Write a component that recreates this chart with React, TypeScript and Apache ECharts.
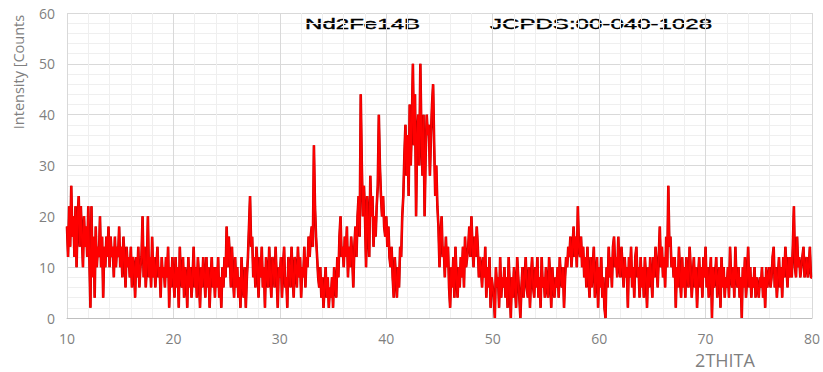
import React, { useEffect, useRef } from "react";
import * as echarts from "echarts";

// 2-theta sampling: starts at 10°, step 0.1°
const TWO_THETA_START = 10;
const TWO_THETA_STEP = 0.1;

// Intensity counts, one row per degree (10 samples each)
const counts10s = [
  18, 12, 22, 14, 26, 16, 20, 12, 22, 10,
  20, 24, 14, 22, 16, 10, 20, 14, 18, 12,
  22, 12, 2, 22, 8, 16, 4, 18, 10, 14,
  12, 20, 10, 16, 4, 14, 10, 16, 12, 18,
  10, 16, 12, 14, 8, 16, 10, 14, 12, 18,
  10, 14, 8, 16, 12, 6, 14, 10, 12, 8,
  14, 6, 12, 10, 4, 12, 8, 14, 6, 10,
  12, 20, 8, 14, 6, 10, 20, 8, 12, 6,
  16, 8, 12, 6, 10, 14, 8, 10, 4, 12,
  8, 10, 6, 12, 8, 14, 2, 10, 6, 12,
];
const counts20s = [
  8, 4, 12, 6, 10, 2, 14, 8, 6, 12,
  4, 10, 8, 2, 12, 6, 10, 4, 8, 14,
  6, 10, 4, 12, 8, 2, 10, 6, 12, 8,
  4, 12, 6, 10, 2, 8, 12, 6, 10, 4,
  10, 6, 12, 4, 8, 2, 10, 6, 12, 8,
  18, 10, 16, 12, 6, 14, 8, 4, 12, 6,
  10, 4, 8, 2, 12, 6, 4, 10, 2, 8,
  12, 18, 24, 14, 16, 8, 12, 6, 14, 10,
  4, 12, 8, 14, 6, 10, 2, 12, 8, 6,
  14, 8, 4, 12, 10, 6, 14, 8, 2, 10,
];
const counts30s = [
  8, 12, 4, 10, 14, 6, 8, 2, 12, 10,
  6, 14, 8, 4, 12, 10, 6, 14, 8, 12,
  4, 10, 8, 14, 6, 12, 10, 16, 12, 16,
  18, 14, 34, 22, 16, 12, 8, 6, 10, 4,
  8, 2, 6, 10, 4, 8, 2, 6, 4, 8,
  2, 10, 6, 4, 12, 8, 16, 20, 12, 14,
  10, 16, 12, 18, 8, 14, 10, 16, 12, 6,
  14, 18, 12, 20, 24, 16, 44, 30, 20, 26,
  20, 10, 24, 18, 12, 28, 20, 24, 14, 20,
  16, 22, 26, 40, 30, 24, 20, 24, 18, 16,
];
const counts40s = [
  20, 14, 18, 12, 10, 14, 8, 4, 12, 8,
  4, 10, 6, 14, 12, 20, 24, 32, 38, 28,
  36, 24, 42, 30, 38, 50, 34, 44, 20, 36,
  40, 30, 50, 36, 28, 40, 20, 32, 40, 36,
  38, 28, 36, 42, 46, 34, 24, 30, 22, 18,
  10, 16, 20, 12, 14, 8, 16, 10, 14, 6,
  2, 10, 6, 12, 4, 14, 8, 4, 10, 6,
  12, 8, 14, 6, 16, 10, 12, 14, 18, 12,
  20, 14, 10, 16, 12, 18, 14, 8, 12, 10,
  6, 12, 8, 14, 4, 10, 6, 12, 2, 8,
];
const counts50s = [
  6, 4, 0, 10, 6, 8, 2, 12, 4, 8,
  6, 10, 4, 8, 2, 12, 6, 0, 8, 4,
  10, 6, 2, 12, 8, 4, 0, 6, 10, 4,
  8, 12, 6, 4, 10, 2, 8, 12, 6, 4,
  10, 6, 12, 4, 8, 2, 12, 6, 8, 4,
  10, 6, 4, 12, 8, 2, 10, 6, 4, 8,
  6, 10, 4, 12, 8, 6, 10, 2, 8, 12,
  10, 14, 12, 16, 10, 14, 18, 12, 16, 10,
  22, 14, 12, 16, 10, 14, 8, 12, 6, 14,
  8, 4, 12, 6, 10, 14, 4, 8, 12, 2,
];
const counts60s = [
  10, 6, 12, 4, 8, 2, 0, 10, 6, 14,
  8, 12, 6, 14, 16, 10, 12, 8, 16, 10,
  8, 14, 10, 6, 12, 8, 10, 2, 12, 8,
  14, 6, 10, 4, 12, 14, 8, 10, 4, 12,
  6, 10, 4, 12, 8, 2, 10, 6, 12, 8,
  4, 12, 8, 14, 10, 6, 12, 18, 10, 14,
  8, 12, 6, 16, 10, 26, 14, 16, 10, 12,
  8, 12, 2, 10, 6, 14, 8, 4, 12, 6,
  10, 4, 12, 8, 6, 14, 10, 4, 8, 12,
  6, 10, 2, 8, 12, 6, 10, 4, 12, 8,
];
const counts70s = [
  14, 6, 10, 4, 8, 12, 0, 10, 6, 8,
  12, 4, 8, 10, 2, 12, 6, 10, 4, 8,
  6, 10, 4, 14, 8, 6, 10, 4, 14, 8,
  6, 10, 4, 8, 0, 10, 6, 12, 4, 8,
  14, 6, 10, 4, 8, 6, 10, 4, 8, 6,
  4, 8, 6, 10, 4, 8, 2, 10, 6, 8,
  10, 6, 8, 12, 14, 6, 10, 4, 8, 12,
  6, 10, 4, 12, 8, 14, 10, 6, 12, 8,
  12, 8, 14, 22, 10, 8, 16, 10, 12, 8,
  10, 12, 14, 8, 10, 12, 8, 10, 14, 8,
];
const countsEnd = [8];

const xTicks = { min: 10, max: 80, interval: 10 };
const yTicks = { min: 0, max: 60, interval: 10 };

const phaseLabel = "Nd2Fe14B";
const cardLabel = "JCPDS:00-040-1028";
const xTitle = "2THITA";
const yTitle = "Intensity [Counts";

export default function App() {
  const ref = useRef<HTMLDivElement>(null);

  useEffect(() => {
    if (!ref.current) return;
    const chart = echarts.init(ref.current, undefined, { renderer: "svg" });
    const all = [
      ...counts10s,
      ...counts20s,
      ...counts30s,
      ...counts40s,
      ...counts50s,
      ...counts60s,
      ...counts70s,
      ...countsEnd,
    ];
    const data = all.map((v, i) => [
      +(TWO_THETA_START + i * TWO_THETA_STEP).toFixed(2),
      v,
    ]);
    const labelStyle = {
      color: "#7f7f7f",
      fontSize: 14,
      fontFamily: "Open Sans",
    };
    const annotationStyle = {
      fill: "#000000",
      stroke: "#000000",
      lineWidth: 0.35,
      fontSize: 14,
      fontFamily: "Liberation Sans",
      textAlign: "left",
      textVerticalAlign: "middle",
    };
    chart.setOption({
      animation: false,
      backgroundColor: "#ffffff",
      grid: { left: 67, right: 6, top: 13, bottom: 54 },
      xAxis: {
        type: "value",
        ...xTicks,
        axisLine: { show: true, lineStyle: { color: "#bfbfbf", width: 1 } },
        axisTick: { show: false },
        axisLabel: { ...labelStyle, margin: 13 },
        splitLine: { show: true, lineStyle: { color: "#d9d9d9", width: 1 } },
        minorTick: { show: false, splitNumber: 5 },
        minorSplitLine: { show: true, lineStyle: { color: "#efefef", width: 1 } },
      },
      yAxis: {
        type: "value",
        ...yTicks,
        axisLine: { show: false },
        axisTick: { show: false },
        axisLabel: { ...labelStyle, margin: 12 },
        splitLine: { show: true, lineStyle: { color: "#d9d9d9", width: 1 } },
        minorTick: { show: false, splitNumber: 5 },
        minorSplitLine: { show: true, lineStyle: { color: "#efefef", width: 1 } },
      },
      series: [
        {
          type: "line",
          data,
          showSymbol: false,
          symbol: "none",
          silent: true,
          lineStyle: { color: "#b80000", width: 2.6 },
          z: 1,
        },
        {
          type: "line",
          data,
          showSymbol: false,
          symbol: "none",
          lineStyle: { color: "#ff0000", width: 1.8 },
          z: 2,
        },
      ],
      graphic: [
        {
          type: "text",
          x: 18,
          y: 72,
          rotation: Math.PI / 2,
          style: {
            text: yTitle,
            fill: "#7f7f7f",
            fontSize: 14.5,
            fontFamily: "Open Sans",
            textAlign: "center",
            textVerticalAlign: "middle",
          },
        },
        {
          type: "text",
          x: 725,
          y: 360,
          style: {
            text: xTitle,
            fill: "#7f7f7f",
            fontSize: 18,
            fontFamily: "Open Sans",
            textAlign: "center",
            textVerticalAlign: "middle",
          },
        },
        {
          type: "text",
          x: 305,
          y: 24,
          scaleX: 1.72,
          style: { text: phaseLabel, ...annotationStyle },
        },
        {
          type: "text",
          x: 490,
          y: 24,
          scaleX: 1.72,
          style: { text: cardLabel, ...annotationStyle },
        },
      ],
    });
    return () => chart.dispose();
  }, []);

  return (
    <div
      ref={ref}
      style={{ position: "fixed", left: 0, top: 0, width: 823, height: 372 }}
    />
  );
}
